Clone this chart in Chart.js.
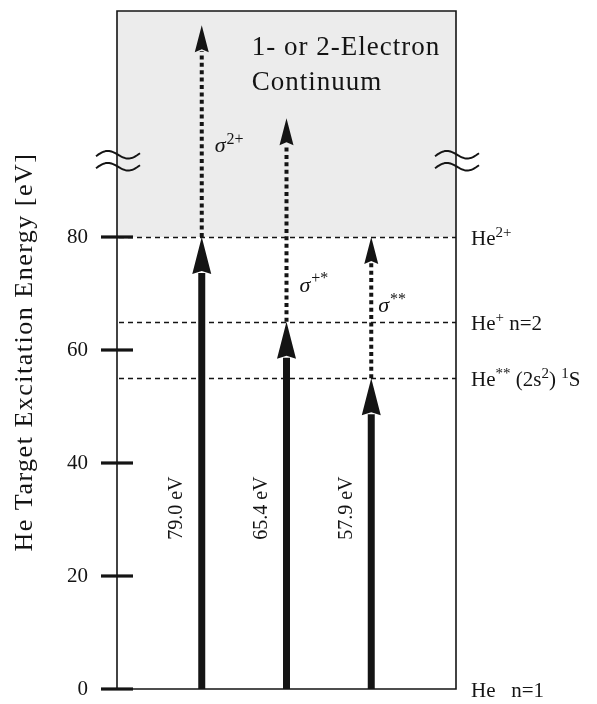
<!DOCTYPE html>
<html><head><meta charset="utf-8">
<script src="https://cdn.jsdelivr.net/npm/chart.js@4.4.0/dist/chart.umd.min.js"></script>
<style>html,body{margin:0;padding:0;background:#fff;overflow:hidden}#wrap{width:597px;height:704px}</style>
</head><body><div id="wrap"><canvas id="c" width="597" height="704"></canvas></div>
<script>
// ---- data ----
const yTicks = [0, 20, 40, 60, 80];
const yRange = [0, 120];
const xRange = [0, 4];
const continuumStart = 80;
const breakAt = 93.5;
const levelValues = [80, 65, 55];
const levelNames = [
  [['He',0],['2+',1]],
  [['He',0],['+',1],[' n=2',0]],
  [['He',0],['**',1],[' (2s',0],['2',1],[') ',0],['1',1],['S',0]]
];
const groundName = [['He   n=1',0]];
const arrowX = [1, 2, 3];
const excitationTop = [80, 65, 55];
const continuumTop = [117.5, 101, 80];
const arrowLabels = ['79.0 eV', '65.4 eV', '57.9 eV'];
const sigmaSup = ['2+', '+*', '**'];
const sigmaAt = [95, 70.3, 66.7];
const continuumText = ['1- or 2-Electron', 'Continuum'];
const yTitle = 'He Target Excitation Energy [eV]';

const SERIF = '"Liberation Serif", "DejaVu Serif", serif';
const INK = '#141414';

function rich(ctx, parts, x, y, size) {
  let cx = x;
  for (const [t, kind] of parts) {
    const sup = kind === 1;
    const fs = sup ? Math.round(size * 0.72) : size;
    ctx.font = (kind === 2 ? 'italic ' : '') + fs + 'px ' + SERIF;
    const dy = sup ? -size * 0.38 : 0;
    ctx.fillText(t, cx, y + dy);
    cx += ctx.measureText(t).width + (kind === 2 ? 1 : 0);
  }
  return cx;
}

function arrow(ctx, x, y0, y1, w, headLen, headW, dash) {
  ctx.save();
  ctx.strokeStyle = INK; ctx.fillStyle = INK;
  ctx.lineWidth = w; ctx.lineCap = 'butt';
  ctx.setLineDash(dash || []);
  ctx.beginPath(); ctx.moveTo(x, y0); ctx.lineTo(x, y1 + headLen - 1); ctx.stroke();
  ctx.setLineDash([]);
  ctx.beginPath();
  ctx.moveTo(x, y1);
  ctx.lineTo(x - headW / 2, y1 + headLen);
  ctx.lineTo(x, y1 + headLen - 3);
  ctx.lineTo(x + headW / 2, y1 + headLen);
  ctx.closePath(); ctx.fill();
  ctx.restore();
}

function breakMark(ctx, cx, cy) {
  ctx.save();
  ctx.strokeStyle = INK; ctx.lineWidth = 2;
  for (const k of [-6, 6]) {
    ctx.beginPath();
    for (let i = 0; i <= 40; i++) {
      const t = i / 40;
      const px = cx - 22 + 44 * t;
      const py = cy + k - 4.5 * Math.sin(2 * Math.PI * t) + 1.5 - 3 * t;
      if (i === 0) ctx.moveTo(px, py); else ctx.lineTo(px, py);
    }
    ctx.stroke();
  }
  ctx.restore();
}

const diagram = {
  id: 'diagram',
  beforeDatasetsDraw(chart) {
    const {ctx, scales: {x, y}} = chart;
    const L = x.getPixelForValue(xRange[0]), R = x.getPixelForValue(xRange[1]);
    const T = y.getPixelForValue(yRange[1]), B = y.getPixelForValue(yRange[0]);
    ctx.save();
    ctx.fillStyle = '#ececec';
    const c0 = y.getPixelForValue(continuumStart);
    ctx.fillRect(L, T, R - L, c0 - T);
    ctx.strokeStyle = INK; ctx.lineWidth = 1.6; ctx.setLineDash([5, 4]);
    levelValues.forEach(v => {
      const py = Math.round(y.getPixelForValue(v)) + 0.5;
      ctx.beginPath(); ctx.moveTo(L + 2, py); ctx.lineTo(R, py); ctx.stroke();
    });
    ctx.setLineDash([]);
    ctx.lineWidth = 1.6;
    ctx.beginPath();
    ctx.moveTo(L, B); ctx.lineTo(L, T); ctx.lineTo(R, T); ctx.lineTo(R, B); ctx.lineTo(L, B);
    ctx.stroke();
    ctx.lineWidth = 3.2;
    yTicks.forEach(v => {
      const py = y.getPixelForValue(v);
      ctx.beginPath(); ctx.moveTo(L - 16, py); ctx.lineTo(L + 16, py); ctx.stroke();
    });
    ctx.restore();
  },
  afterDatasetsDraw(chart) {
    const {ctx, scales: {x, y}} = chart;
    const L = x.getPixelForValue(xRange[0]), R = x.getPixelForValue(xRange[1]);
    ctx.save();
    ctx.fillStyle = INK;
    arrowX.forEach((ax, i) => {
      const px = x.getPixelForValue(ax);
      const p0 = y.getPixelForValue(0);
      const p1 = y.getPixelForValue(excitationTop[i]);
      const p2 = y.getPixelForValue(continuumTop[i]);
      arrow(ctx, px, p1, p2, 4, 27, 14, [4, 3.4]);
      arrow(ctx, px, p0, p1, 7, 37, 19);
      ctx.save();
      ctx.translate(px - 25, y.getPixelForValue(32));
      ctx.rotate(-Math.PI / 2);
      ctx.font = '20px ' + SERIF;
      ctx.textAlign = 'center'; ctx.textBaseline = 'middle';
      ctx.fillStyle = INK;
      ctx.fillText(arrowLabels[i], 0, 0);
      ctx.restore();
      ctx.textAlign = 'left'; ctx.textBaseline = 'alphabetic';
      const sx = px + (i === 2 ? 7 : 13);
      rich(ctx, [['σ', 2], [sigmaSup[i], 1]], sx, y.getPixelForValue(sigmaAt[i]), 22);
    });
    ctx.textAlign = 'left'; ctx.textBaseline = 'alphabetic';
    levelValues.forEach((v, i) => {
      rich(ctx, levelNames[i], R + 15, y.getPixelForValue(v) + 8, 21);
    });
    rich(ctx, groundName, R + 15, y.getPixelForValue(0) + 8, 21);
    ctx.letterSpacing = '1px';
    ctx.font = '27px ' + SERIF;
    ctx.fillText(continuumText[0], x.getPixelForValue(1.59), y.getPixelForValue(112.2));
    ctx.fillText(continuumText[1], x.getPixelForValue(1.59), y.getPixelForValue(106));
    ctx.letterSpacing = '1.5px';
    ctx.save();
    ctx.translate(25, (y.top + y.bottom) / 2 + 2);
    ctx.rotate(-Math.PI / 2);
    ctx.font = '26px ' + SERIF;
    ctx.textAlign = 'center'; ctx.textBaseline = 'middle';
    ctx.fillText(yTitle, 0, 0);
    ctx.restore();
    ctx.letterSpacing = '0px';
    breakMark(ctx, L + 1, y.getPixelForValue(breakAt));
    breakMark(ctx, R + 1, y.getPixelForValue(breakAt));
    ctx.restore();
  }
};

new Chart(document.getElementById('c'), {
  type: 'scatter',
  data: {
    datasets: arrowX.map((ax, i) => ({
      label: arrowLabels[i],
      data: [{x: ax, y: 0}, {x: ax, y: continuumTop[i]}],
      showLine: false, pointRadius: 0, borderWidth: 0
    }))
  },
  options: {
    responsive: false, animation: false, devicePixelRatio: 1,
    layout: {autoPadding: false, padding: {left: 0, right: 141, top: 11, bottom: 15}},
    plugins: {legend: {display: false}, tooltip: {enabled: false}},
    scales: {
      x: {type: 'linear', min: xRange[0], max: xRange[1], display: false},
      y: {
        type: 'linear', min: yRange[0], max: yRange[1],
        afterBuildTicks: s => { s.ticks = yTicks.map(v => ({value: v})); },
        afterFit: s => { s.width = 117; s.paddingTop = 0; s.paddingBottom = 0; },
        grid: {display: false, drawTicks: false},
        border: {display: false},
        ticks: {padding: 29, color: INK, font: {family: SERIF, size: 21}, callback: v => String(v)}
      }
    }
  },
  plugins: [diagram]
});
</script></body></html>
